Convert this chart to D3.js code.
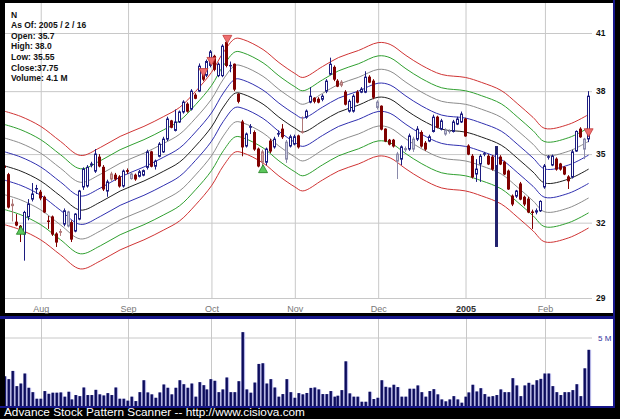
<!DOCTYPE html>
<html><head><meta charset="utf-8">
<script src="https://cdn.jsdelivr.net/npm/d3@7"></script>
<style>html,body{margin:0;padding:0;background:#000;}svg{display:block;}</style>
</head><body>
<svg id="c" width="620" height="419"></svg>
<script>
// ---------- DATA (trading-day index 0 = 2004-07-20 ... 147 = 2005-02-16) ----------
const openP  = [34.45,34.07,32.78,32.02,31.85,31.53,32.25,33.0,33.44,33.3,33.08,32.07,32.24,31.53,31.63,31.94,31.86,32.0,31.65,32.15,33.53,33.57,34.5,34.23,34.86,34.4,33.35,34.1,34.05,33.97,33.57,34.25,33.9,34.05,34.0,34.05,34.4,35.1,34.45,34.9,35.1,35.69,36.55,36.1,36.5,36.98,37.36,37.12,37.8,38.0,39.0,38.8,39.3,39.77,38.78,38.78,40.5,39.28,39.36,37.85,36.5,35.37,36.25,36.0,35.23,35.1,34.63,35.6,35.33,35.93,36.16,34.77,35.37,35.46,35.84,36.05,36.73,37.46,37.65,37.6,37.6,38.0,38.85,39.2,38.5,38.45,37.95,37.02,37.02,37.95,37.95,37.95,38.7,38.5,37.2,37.26,36.16,35.64,35.64,34.68,34.77,35.2,35.23,35.23,35.69,36.0,35.5,35.6,36.05,36.73,36.16,35.93,36.05,36.05,36.4,36.5,36.64,35.37,34.9,34.1,34.55,35.0,34.9,34.86,34.46,34.86,34.63,34.23,33.13,33.13,33.66,33.08,33.0,32.45,32.45,32.5,33.53,34.86,34.5,34.77,34.55,34.4,33.97,33.97,35.14,36.16,35.23,35.7];
const highP  = [34.6,34.15,33.0,32.36,31.9,32.5,33.0,33.7,33.62,33.4,33.15,32.28,32.3,31.6,31.74,32.6,32.5,32.1,32.4,33.4,34.4,34.5,34.65,35.23,35.0,34.5,33.85,34.2,34.15,34.05,34.3,34.35,34.2,34.12,34.28,34.3,35.2,35.15,34.75,35.55,35.8,36.75,36.6,37.1,37.05,37.55,37.45,38.1,37.9,39.4,39.1,39.6,40.1,39.85,39.45,40.4,40.6,39.5,39.4,37.9,36.6,36.0,36.4,36.1,35.3,35.2,35.3,35.7,35.8,36.1,36.4,35.65,35.9,35.9,35.9,36.76,37.1,38.2,37.7,37.7,37.85,38.6,39.7,39.3,38.6,38.55,38.05,37.6,37.85,38.05,38.2,39.0,38.8,38.6,37.55,37.3,36.2,35.7,35.7,35.1,35.4,35.35,35.95,35.8,36.3,36.1,35.6,35.9,36.85,36.8,36.65,36.2,36.15,36.6,36.75,37.0,36.7,35.45,35.0,34.77,35.0,35.1,35.0,34.95,35.37,34.95,34.7,34.3,33.2,33.4,33.75,33.15,33.1,32.55,32.6,32.95,34.55,34.95,34.98,34.85,34.6,34.45,34.05,35.2,36.1,36.25,35.75,38.0];
const lowP   = [34.3,32.6,32.05,31.85,31.2,30.45,32.1,32.9,33.22,32.95,32.4,31.74,31.45,31.0,31.45,31.85,31.8,31.2,31.6,32.1,33.4,33.5,34.4,34.15,34.4,33.35,33.1,33.8,33.8,33.5,33.5,34.1,33.85,33.8,33.95,34.0,34.3,34.4,34.3,34.85,35.05,35.6,36.2,36.05,36.45,36.9,36.95,37.05,37.6,37.95,38.5,38.7,39.2,39.0,38.7,38.7,39.2,38.95,38.0,37.4,34.9,35.3,35.93,35.15,34.4,34.4,34.5,35.05,35.25,35.8,35.7,34.6,35.3,35.4,35.25,35.95,36.65,37.4,37.4,37.4,37.5,37.9,38.8,38.5,38.2,38.2,37.3,36.95,36.95,37.4,37.9,37.9,38.4,37.6,37.1,36.1,35.55,35.4,35.3,33.88,34.5,35.1,35.15,35.1,35.6,35.3,35.15,35.55,36.0,36.2,36.1,35.85,35.95,36.0,36.35,36.45,35.8,34.95,33.9,33.75,33.75,34.9,34.5,34.25,31.0,34.5,34.05,33.4,32.7,33.05,32.95,32.7,32.4,31.74,32.35,32.45,33.45,34.75,34.45,34.25,34.25,34.05,33.44,33.9,35.1,35.75,34.77,35.55];
const closeP = [34.4,32.66,32.72,31.9,31.55,32.43,32.79,33.22,33.46,33.05,32.45,32.05,31.53,31.2,31.6,32.5,32.45,31.32,32.36,33.35,34.32,34.4,34.55,35.0,34.46,33.44,33.75,33.88,33.88,33.57,34.23,34.22,34.1,33.88,34.2,34.25,35.1,34.45,34.68,35.46,35.69,36.64,36.25,36.5,36.98,37.46,37.02,38.0,37.65,39.26,38.6,39.5,40.0,39.1,39.36,40.3,39.3,39.3,38.1,37.5,35.33,35.93,36.28,35.23,34.46,34.63,35.23,35.14,35.69,35.95,35.8,35.55,35.8,35.8,35.33,36.0,37.02,37.75,37.5,37.46,37.75,38.5,39.36,38.6,38.25,38.3,37.36,37.5,37.75,37.46,38.1,38.7,38.45,37.7,37.46,36.16,35.6,35.46,35.37,35.0,35.33,35.25,35.84,35.69,36.16,35.37,35.23,35.8,36.73,36.25,36.55,36.1,36.07,36.5,36.64,36.88,35.84,35.0,33.97,34.32,34.9,35.02,34.55,34.32,35.0,34.55,34.1,33.44,32.79,33.35,33.0,32.79,32.45,32.43,32.5,32.9,34.46,34.88,34.9,34.32,34.32,34.1,33.8,35.1,36.05,35.8,35.69,37.75];
const volumeM = [2.17,1.96,2.56,1.45,1.64,2.37,1.33,1.01,0.53,0.53,1.09,0.89,0.97,0.97,0.99,0.68,1.04,0.48,0.80,0.72,1.35,0.80,0.80,1.18,0.85,0.77,0.94,0.80,1.35,0.53,0.53,0.39,0.68,0.36,1.01,1.88,0.99,0.85,0.60,0.99,1.57,1.33,0.85,1.33,1.88,1.59,1.33,1.64,0.68,1.74,1.52,1.21,1.96,1.84,1.01,1.21,2.08,1.01,1.01,1.81,5.39,1.21,0.97,1.71,3.07,3.12,1.64,1.96,1.35,0.68,0.87,1.96,1.01,0.60,0.94,0.85,0.95,1.32,1.35,1.21,0.87,0.87,1.09,0.68,0.75,1.16,3.26,0.92,0.68,0.68,0.31,0.31,1.04,0.51,0.60,1.88,1.40,1.35,1.55,1.38,0.68,0.68,1.26,1.26,1.50,1.01,0.68,1.09,1.23,0.85,0.48,0.34,0.48,0.72,0.48,0.24,0.68,0.99,1.55,1.06,1.30,0.87,0.68,0.72,0.80,1.21,1.01,1.01,2.03,1.50,0.72,1.50,1.69,1.55,1.88,1.98,2.37,2.37,1.45,1.01,0.80,1.01,1.01,1.16,1.59,0.72,2.75,4.1];

// envelope centre line, sampled at trading-day indexes
const bandDay = [0,4,9,14,19,24,29,35,40,44,48,52,55,58,60,65,69,73,75,80,84,89,94,97,101,105,110,116,120,125,129,133,136,142,147];
const bandMid = [34.46,34.23,33.79,33.13,32.53,32.87,33.35,33.79,34.23,34.64,35.37,36.26,37.22,37.90,37.85,37.36,36.73,36.21,36.02,36.54,36.97,37.31,37.70,37.61,37.07,36.59,36.16,36.02,35.79,35.41,34.82,34.19,33.70,33.88,34.32];
const bandOffsetPct = [-7.4,-5.55,-3.7,-1.85,0,1.85,3.7,5.55,7.4];

const sellDay = [50,52,56,147];
const sellPrice = [38.73,39.3,40.45,35.8];
const buyDay = [4,65];
const buyPrice = [31.85,34.52];

const monthLabels = ["Aug","Sep","Oct","Nov","Dec","2005","Feb"];
const monthStart = [9,31,52,73,94,116,136];
const priceTicks = [29,32,35,38,41];
const volumeTicks = [5];
const infoLines = ["N","As Of: 2005 / 2 / 16","Open: 35.7","High: 38.0","Low: 35.55","Close:37.75","Volume: 4.1 M"];
const footer = "Advance Stock Pattern Scanner -- http://www.cisiova.com";

// ---------- DRAW ----------
const svg = d3.select("#c");
const NAVY = "#16168a";
svg.append("rect").attr("width",620).attr("height",419).attr("fill","#000");
svg.append("rect").attr("x",5).attr("y",3).attr("width",608).attr("height",310).attr("fill","#fff");
svg.append("rect").attr("x",0).attr("y",316).attr("width",615).attr("height",3).attr("fill",NAVY);
svg.append("rect").attr("x",5).attr("y",319).attr("width",608).attr("height",87).attr("fill","#fff");
svg.append("rect").attr("x",0).attr("y",406).attr("width",615).attr("height",2).attr("fill",NAVY);
svg.append("rect").attr("x",613).attr("y",0).attr("width",2).attr("height",408).attr("fill",NAVY);

const x = d3.scaleLinear().domain([0,147]).range([5,588.6]);
const y = d3.scaleLog().domain([29,41]).range([298,33]);
const v = d3.scaleLinear().domain([0,5]).range([406,337.5]);

const defs = svg.append("defs");
defs.append("clipPath").attr("id","cp").append("rect").attr("x",5).attr("y",3).attr("width",608).attr("height",310);
defs.append("clipPath").attr("id","cv").append("rect").attr("x",5).attr("y",319).attr("width",608).attr("height",87);

// price grid + labels
const ya = svg.append("g").attr("transform","translate(5,0)")
  .call(d3.axisRight(y).tickValues(priceTicks).tickSize(587).tickPadding(4).tickFormat(d3.format("d")));
ya.select(".domain").remove();
ya.selectAll("line").attr("stroke","#c8c8c8");
ya.selectAll("text").attr("font-family","Liberation Sans, Arial, sans-serif").attr("font-size",8.5).attr("font-weight","bold").attr("fill","#111");

const xa = svg.append("g").attr("transform","translate(0,299)")
  .call(d3.axisBottom(x).tickValues(monthStart).tickSize(-296).tickPadding(7).tickFormat((d,i)=>monthLabels[i]));
xa.select(".domain").remove();
xa.selectAll("line").attr("stroke","#c8c8c8");
xa.selectAll("text").attr("font-family","Liberation Sans, Arial, sans-serif").attr("font-size",9)
  .attr("fill",(d,i)=>monthLabels[i]==="2005"?"#333":"#777").attr("font-weight",(d,i)=>monthLabels[i]==="2005"?"bold":"normal");

// volume grid
const va = svg.append("g").attr("transform","translate(5,0)")
  .call(d3.axisRight(v).tickValues(volumeTicks).tickSize(587).tickPadding(6).tickFormat(d=>d+" M"));
va.select(".domain").remove();
va.selectAll("line").attr("stroke","#c8c8c8");
va.selectAll("text").attr("font-family","Liberation Sans, Arial, sans-serif").attr("font-size",8).attr("fill","#3030a0");
svg.append("g").selectAll("line").data(monthStart).join("line")
  .attr("x1",d=>Math.round(x(d))+0.5).attr("x2",d=>Math.round(x(d))+0.5).attr("y1",319).attr("y2",406).attr("stroke","#c8c8c8");

// envelope bands
const bandColors = ["#d03434","#30a030","#8c8c8c","#3030b0","#202020","#3030b0","#8c8c8c","#30a030","#d03434"];
const gb = svg.append("g").attr("clip-path","url(#cp)");
const line = d3.line().x(d=>x(d[0])).y(d=>y(d[1])).curve(d3.curveCatmullRom.alpha(0.5));
bandOffsetPct.forEach((o,k)=>{
  const pts = bandDay.map((d,i)=>[d, bandMid[i]*(1+o/100)]);
  gb.append("path").attr("d",line(pts)).attr("fill","none").attr("stroke",bandColors[k]).attr("stroke-width",1);
});

// candles
const gc = svg.append("g").attr("clip-path","url(#cp)");
const styleOf = i=>{
  const o=openP[i], c=closeP[i], pc = i>0?closeP[i-1]:o;
  if (c>=o) return c>=pc ? {f:"#ffffff",s:"#1c1c80"} : {f:"#c6c6da",s:"#8a8aaa"};
  return c<=pc ? {f:"#800000",s:"#800000"} : {f:"#d9a4a4",s:"#b07878"};
};
d3.range(openP.length).forEach(i=>{
  const px = Math.round(x(i));
  const st = styleOf(i);
  const thick = (highP[i]-lowP[i])/lowP[i] > 0.1;
  gc.append("line").attr("x1",px-0.5).attr("x2",px-0.5).attr("y1",y(highP[i])).attr("y2",y(lowP[i]))
    .attr("stroke",thick?"#22226e":st.s).attr("stroke-width",thick?3:1);
  const top = y(Math.max(openP[i],closeP[i])), bot = y(Math.min(openP[i],closeP[i]));
  gc.append("rect").attr("x",px-1.5).attr("width",2).attr("y",top).attr("height",Math.max(bot-top,0.5))
    .attr("fill",st.f).attr("stroke",st.s).attr("stroke-width",1);
});

// signals
sellDay.forEach((d,i)=>{
  const cx=x(d), ty=y(sellPrice[i]);
  gc.append("path").attr("d",`M${cx-4.5},${ty-8}L${cx+4.5},${ty-8}L${cx},${ty}Z`)
    .attr("fill","#ee6e6e").attr("stroke","#c03a3a").attr("stroke-width",0.8);
});
buyDay.forEach((d,i)=>{
  const cx=x(d), ty=y(buyPrice[i]);
  gc.append("path").attr("d",`M${cx-4.5},${ty+8}L${cx+4.5},${ty+8}L${cx},${ty}Z`)
    .attr("fill","#5cc85c").attr("stroke","#1f7f1f").attr("stroke-width",0.8);
});

// volume bars
const gv = svg.append("g").attr("clip-path","url(#cv)");
volumeM.forEach((m,i)=>{
  const px = Math.round(x(i));
  gv.append("rect").attr("x",px-1.5).attr("width",3.6).attr("y",v(m)).attr("height",406-v(m)).attr("fill","#b4b4e4");
  gv.append("rect").attr("x",px-1.5).attr("width",2.4).attr("y",v(m)).attr("height",406-v(m)).attr("fill","#0c0c5c");
});

// info text
svg.append("g").selectAll("text").data(infoLines).join("text")
  .attr("x",11).attr("y",(d,i)=>17.5+i*10.6).text(d=>d)
  .attr("font-family","Liberation Sans, Arial, sans-serif").attr("font-size",8.5).attr("font-weight","bold").attr("fill","#111");

// footer
svg.append("text").attr("x",4).attr("y",415.5).text(footer)
  .attr("font-family","Liberation Sans, Arial, sans-serif").attr("font-size",11.8).attr("fill","#fff");
</script>
</body></html>
